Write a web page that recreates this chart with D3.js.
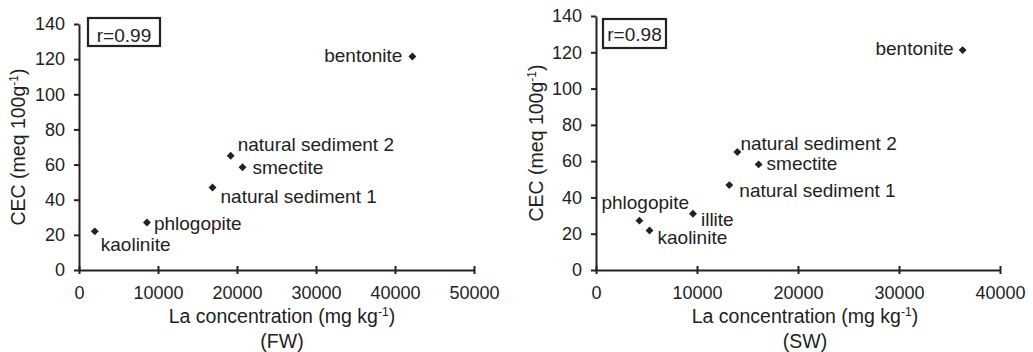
<!DOCTYPE html>
<html><head><meta charset="utf-8">
<script src="https://cdn.jsdelivr.net/npm/d3@7"></script>
<style>
html,body{margin:0;padding:0;background:#fff;}
svg{display:block;font-family:"Liberation Sans",Arial,sans-serif;}
</style></head>
<body><svg id="c" width="1033" height="352"></svg>
<script>
// ---- data ----
const fwNames = ["kaolinite","phlogopite","natural sediment 1","natural sediment 2","smectite","bentonite"];
const fwLa    = [2000, 8600, 16900, 19200, 20700, 42200];
const fwCEC   = [22, 27, 47, 65, 58.5, 121.5];
const swNames = ["phlogopite","kaolinite","illite","natural sediment 1","natural sediment 2","smectite","bentonite"];
const swLa    = [4300, 5300, 9600, 13200, 14000, 16100, 36300];
const swCEC   = [27.2, 21.8, 31, 46.8, 65, 58.2, 121.2];
const fwXTicks = [0,10000,20000,30000,40000,50000];
const swXTicks = [0,10000,20000,30000,40000];
const yTicks  = [0,20,40,60,80,100,120,140];
const fwR = "r=0.99", swR = "r=0.98";
const fwTag = "(FW)", swTag = "(SW)";

// ---- layout (positions / styles) ----
const ink = "#222";
const panels = [
  {names:fwNames, xs:fwLa, ys:fwCEC, xt:fwXTicks, xmax:50000, r:fwR, tag:fwTag,
   x0:79, x1:474, y0:270, y1:24, box:[88,18,72,28], rBase:41.5, ytX:24.5, xtC:282,
   off:{"kaolinite":[6,20,"start"],"phlogopite":[7,7,"start"],"natural sediment 1":[8,16,"start"],
        "natural sediment 2":[7,-5,"start"],"smectite":[10,7,"start"],"bentonite":[-10,5,"end"]}},
  {names:swNames, xs:swLa, ys:swCEC, xt:swXTicks, xmax:40000, r:swR, tag:swTag,
   x0:596, x1:1000, y0:270, y1:16, box:[603,19,63,29], rBase:41, ytX:543, xtC:805,
   off:{"phlogopite":[-38,-12,"start"],"kaolinite":[8,14,"start"],"illite":[8,12,"start"],
        "natural sediment 1":[10,12,"start"],"natural sediment 2":[3,-2,"start"],
        "smectite":[8,6,"start"],"bentonite":[-9,5,"end"]}}
];

const svg = d3.select("#c");

function sup(textSel, main, supTxt, tail){
  textSel.append("tspan").text(main);
  textSel.append("tspan").attr("dy",-7).attr("font-size","0.62em").text(supTxt);
  textSel.append("tspan").attr("dy",7).text(tail);
}

panels.forEach(p=>{
  const x = d3.scaleLinear().domain([0,p.xmax]).range([p.x0,p.x1]);
  const y = d3.scaleLinear().domain([0,140]).range([p.y0,p.y1]);
  const g = svg.append("g");

  // y axis
  const ya = g.append("g").attr("transform",`translate(${p.x0},0)`)
    .call(d3.axisLeft(y).tickValues(yTicks).tickSize(5).tickPadding(9).tickSizeOuter(0));
  ya.select(".domain").attr("stroke",ink).attr("stroke-width",2);
  ya.selectAll(".tick line").attr("stroke",ink).attr("stroke-width",2);
  ya.selectAll(".tick text").attr("fill",ink).attr("font-size",18).attr("font-family","Liberation Sans, Arial, sans-serif");

  // x axis
  const xa = g.append("g").attr("transform",`translate(0,${p.y0})`)
    .call(d3.axisBottom(x).tickValues(p.xt).tickFormat(d3.format("d")).tickSize(4).tickPadding(12).tickSizeOuter(0));
  xa.select(".domain").attr("stroke",ink).attr("stroke-width",2);
  xa.selectAll(".tick line").attr("stroke",ink).attr("stroke-width",2).attr("y1",-4);
  xa.selectAll(".tick text").attr("fill",ink).attr("font-size",18).attr("font-family","Liberation Sans, Arial, sans-serif");

  // axis titles
  const xt = g.append("text").attr("x",p.xtC).attr("y",323).attr("text-anchor","middle")
    .attr("font-size",19.5).attr("fill",ink);
  sup(xt,"La concentration (mg kg","-1",")");
  g.append("text").attr("x",p.xtC).attr("y",348).attr("text-anchor","middle")
    .attr("font-size",19.5).attr("fill",ink).text(p.tag);
  const cy = (p.y0+p.y1)/2;
  const yt = g.append("text").attr("transform",`translate(${p.ytX},${cy}) rotate(-90)`)
    .attr("text-anchor","middle").attr("font-size",19.5).attr("fill",ink);
  sup(yt,"CEC (meq 100g","-1",")");

  // r box
  g.append("rect").attr("x",p.box[0]).attr("y",p.box[1]).attr("width",p.box[2]).attr("height",p.box[3])
    .attr("fill","none").attr("stroke",ink).attr("stroke-width",2.2);
  g.append("text").attr("x",p.box[0]+p.box[2]/2).attr("y",p.rBase).attr("text-anchor","middle")
    .attr("font-size",19).attr("fill",ink).text(p.r);

  // points
  const pts = p.names.map((n,i)=>({n, X:p.xs[i], Y:p.ys[i]}));
  g.selectAll("path.pt").data(pts).enter().append("path").attr("class","pt")
    .attr("transform",d=>`translate(${x(d.X)},${y(d.Y)})`)
    .attr("d",d3.symbol().type(d3.symbolDiamond2).size(40)())
    .attr("fill",ink);
  g.selectAll("text.lb").data(pts).enter().append("text").attr("class","lb")
    .attr("x",d=>x(d.X)+p.off[d.n][0]).attr("y",d=>y(d.Y)+p.off[d.n][1])
    .attr("text-anchor",d=>p.off[d.n][2]).attr("font-size",19).attr("fill",ink).text(d=>d.n);
});
</script></body></html>
